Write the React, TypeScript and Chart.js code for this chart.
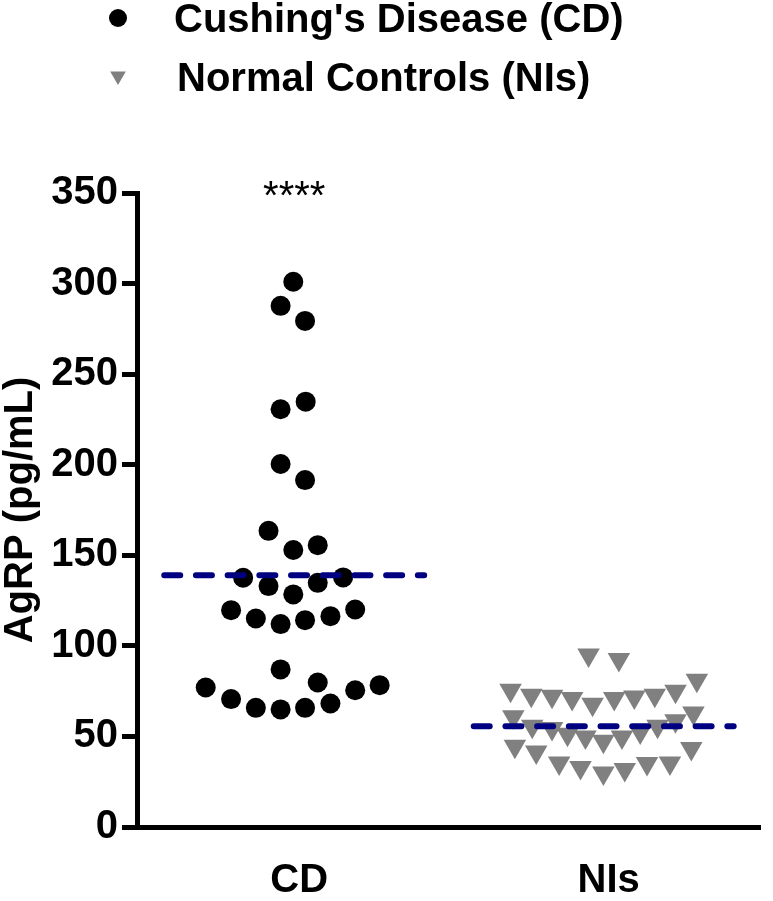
import React, { useEffect, useRef } from "react";
import { Chart, registerables } from "chart.js";

Chart.register(...registerables);

// ---- data ----
const CATEGORIES = ["CD", "NIs"];
const CATEGORY_POS = [1, 2];
const SERIES_LABELS = ["Cushing's Disease (CD)", "Normal Controls (NIs)"];

const CD_X = [
  0.997, 0.956, 1.035, 1.037, 0.956, 0.956, 1.035, 0.917, 1.076, 0.997,
  0.835, 0.917, 1.076, 1.158, 0.997, 0.796, 0.876, 0.956, 1.035, 1.117,
  1.197, 0.956, 0.714, 1.076, 1.197, 1.276, 0.796, 0.876, 0.956, 1.035,
  1.117,
];
const CD_Y = [
  301, 287.7, 279.4, 234.8, 230.6, 200.4, 191.5, 163.5, 155.6, 152.9,
  137.6, 133, 134.8, 137.8, 128.4, 119.7, 115.1, 112, 114.2, 116.4,
  120.1, 87, 77, 79.8, 75.5, 78.3, 70.6, 65.8, 64.9, 65.8,
  68.2,
];

const NIS_X = [
  1.951, 2.049,
  1.699, 1.766, 1.833, 1.898, 1.964, 2.034, 2.099, 2.165, 2.232, 2.301,
  1.708, 1.769, 1.833, 1.883, 1.941, 1.999, 2.059, 2.118, 2.174, 2.232, 2.29,
  1.713, 1.782, 1.856, 1.925, 1.999, 2.068, 2.14, 2.214, 2.283,
];
const NIS_Y = [
  94.9, 92.5,
  75.5, 72.8, 72.2, 70.9, 67.8, 70.9, 71.8, 72.8, 75, 81,
  60.8, 55.6, 54.4, 51.2, 49.7, 47.3, 49.7, 52.5, 55.6, 58.6, 63,
  44.6, 41.4, 35.4, 32.8, 29.8, 31.7, 35, 35.4, 43.3,
];

const MEANS = [139, 55.6];
const MEAN_HALF_WIDTH = 0.42;

const Y_MIN = 0;
const Y_MAX = 350;
const Y_STEP = 50;
const Y_TITLE = "AgRP (pg/mL)";

const SIG_TEXT = "****";
const SIG_POS = { x: 1, y: 341.4 };

// ---- styles ----
const FONT = '"Liberation Sans", Arial, Helvetica, sans-serif';
const CD_COLOR = "#000000";
const NIS_COLOR = "#808080";
const MEAN_COLOR = "#000080";

const zip = (xs: number[], ys: number[]) => xs.map((x, i) => ({ x, y: ys[i] }));

const overlayPlugin = {
  id: "overlayText",
  afterDraw(chart: any) {
    const ctx = chart.ctx as CanvasRenderingContext2D;
    const xs = chart.scales.x;
    const ys = chart.scales.y;
    ctx.save();
    // legend
    ctx.font = `bold 40px ${FONT}`;
    ctx.textAlign = "left";
    ctx.textBaseline = "alphabetic";
    // row 1 : circle
    ctx.beginPath();
    ctx.fillStyle = CD_COLOR;
    ctx.arc(118, 18, 9, 0, Math.PI * 2);
    ctx.fill();
    ctx.fillStyle = "#000";
    ctx.fillText(SERIES_LABELS[0], 174, 32);
    // row 2 : down triangle
    const r = 9;
    const cx = 118, cy = 76;
    ctx.beginPath();
    ctx.fillStyle = NIS_COLOR;
    ctx.moveTo(cx - r * 0.866, cy - r * 0.5);
    ctx.lineTo(cx + r * 0.866, cy - r * 0.5);
    ctx.lineTo(cx, cy + r);
    ctx.closePath();
    ctx.fill();
    ctx.fillStyle = "#000";
    ctx.fillText(SERIES_LABELS[1], 177, 91);
    // significance
    ctx.font = `40px ${FONT}`;
    ctx.textAlign = "center";
    ctx.fillText(SIG_TEXT, xs.getPixelForValue(SIG_POS.x), ys.getPixelForValue(SIG_POS.y));
    ctx.restore();
  },
};

export default function App() {
  const ref = useRef<HTMLCanvasElement | null>(null);

  useEffect(() => {
    if (!ref.current) return;
    const meanLine = (i: number) => ({
      type: "scatter" as const,
      label: "mean " + CATEGORIES[i],
      data: [
        { x: CATEGORY_POS[i] - MEAN_HALF_WIDTH, y: MEANS[i] },
        { x: CATEGORY_POS[i] + MEAN_HALF_WIDTH, y: MEANS[i] },
      ],
      showLine: true,
      borderColor: MEAN_COLOR,
      borderWidth: 6,
      borderDash: [16, 15.7],
      borderCapStyle: "round" as const,
      pointRadius: 0,
      order: 0,
    });
    const chart = new Chart(ref.current, {
      type: "scatter",
      data: {
        datasets: [
          meanLine(0),
          meanLine(1),
          {
            label: SERIES_LABELS[0],
            data: zip(CD_X, CD_Y),
            pointStyle: "circle",
            pointRadius: 10,
            backgroundColor: CD_COLOR,
            borderWidth: 0,
            order: 1,
          },
          {
            label: SERIES_LABELS[1],
            data: zip(NIS_X, NIS_Y),
            pointStyle: "triangle",
            rotation: 180,
            pointRadius: 13,
            backgroundColor: NIS_COLOR,
            borderWidth: 0,
            order: 1,
          } as any,
        ],
      },
      options: {
        responsive: false,
        animation: false,
        devicePixelRatio: 1,
        layout: { padding: { top: 193, right: 2, bottom: 0, left: 0 } },
        plugins: { legend: { display: false }, tooltip: { enabled: false } },
        scales: {
          x: {
            type: "linear",
            min: 0.492,
            max: 2.505,
            grid: { display: true, drawOnChartArea: false, drawTicks: false },
            border: { display: true, color: "#000", width: 5 },
            afterBuildTicks: (scale: any) => {
              scale.ticks = CATEGORY_POS.map((v) => ({ value: v }));
            },
            afterFit: (scale: any) => {
              scale.height = 74;
            },
            ticks: {
              color: "#000",
              padding: 30,
              labelOffset: 5,
              font: { family: FONT, size: 40, weight: "bold" },
              callback: (v: any) => {
                const i = CATEGORY_POS.indexOf(Number(v));
                return i >= 0 ? CATEGORIES[i] : "";
              },
            },
          },
          y: {
            type: "linear",
            min: Y_MIN,
            max: Y_MAX,
            grid: {
              display: true,
              drawOnChartArea: false,
              drawTicks: true,
              tickLength: 15,
              tickWidth: 5,
              tickColor: "#000",
            },
            border: { display: true, color: "#000", width: 5 },
            afterFit: (scale: any) => {
              scale.width = 137;
            },
            ticks: {
              stepSize: Y_STEP,
              color: "#000",
              padding: 4,
              font: { family: FONT, size: 40, weight: "bold" },
            },
            title: {
              display: true,
              text: Y_TITLE,
              color: "#000",
              padding: 0,
              font: { family: FONT, size: 40, weight: "bold", lineHeight: 1.05 },
            },
          },
        },
      },
      plugins: [overlayPlugin],
    } as any);
    return () => chart.destroy();
  }, []);

  return (
    <div style={{ position: "fixed", left: 0, top: 0, width: 773, height: 901, background: "#fff" }}>
      <canvas ref={ref} width={773} height={901} style={{ width: 773, height: 901, display: "block" }} />
    </div>
  );
}
